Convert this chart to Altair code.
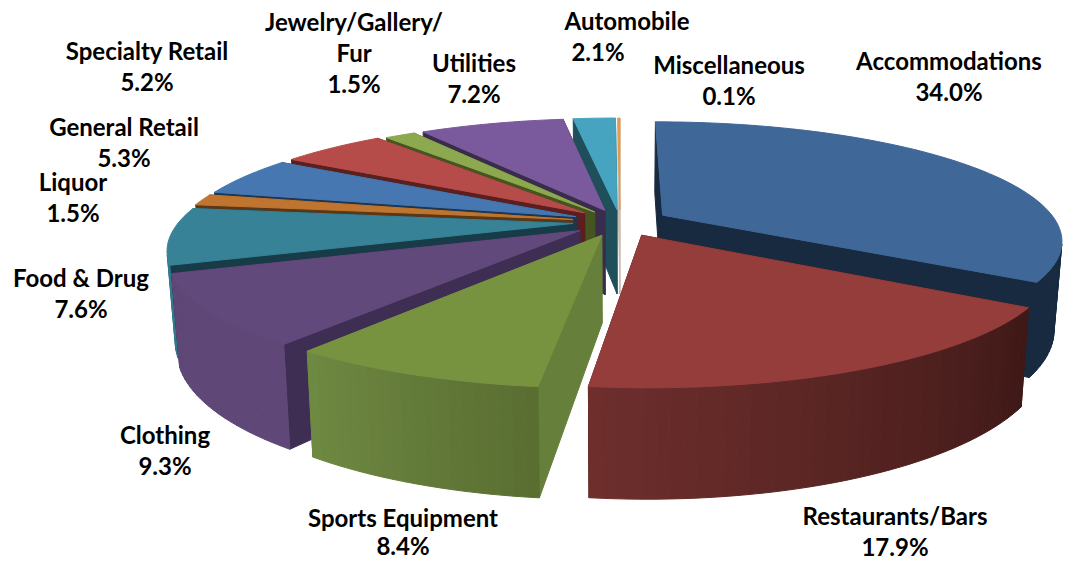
import math
import altair as alt
import pandas as pd

# Share of sales by category, clockwise from twelve o'clock
categories = ["Accommodations", "Restaurants/Bars", "Sports Equipment", "Clothing",
              "Food & Drug", "Liquor", "General Retail", "Specialty Retail",
              "Jewelry/Gallery/\nFur", "Utilities", "Automobile", "Miscellaneous"]
shares = [34.0, 17.9, 8.4, 9.3, 7.6, 1.5, 5.3, 5.2, 1.5, 7.2, 2.1, 0.1]

top_colors = ["#3f6797", "#953d3b", "#77933f", "#62497c", "#378297", "#bf7530",
              "#4677b1", "#b64c49", "#8ca94f", "#7a5a9c", "#46a4c0", "#e29a4c"]
cut_colors = ["#172a40", "#3f1917", "#667f3a", "#3e2e54", "#173c47", "#5c3716",
              "#1c3652", "#5a1f1e", "#45551f", "#3a2c4c", "#1f4f5a", "#c8bdb0"]
rim_left = ["#172a40", "#6e2f2d", "#6f8a42", "#5f4878", "#31798c", "#5c3716",
            "#1c3652", "#5a1f1e", "#45551f", "#3a2c4c", "#1f4f5a", "#c8bdb0"]
rim_right = ["#172a40", "#3f1917", "#5a6e32", "#5f4878", "#31798c", "#5c3716",
             "#1c3652", "#5a1f1e", "#45551f", "#3a2c4c", "#1f4f5a", "#c8bdb0"]

# Radial pull of each slice away from the pie's centre
explode = [0.125, 0.125, 0.122, 0.125, 0.12, 0.122, 0.122, 0.122, 0.11, 0.11, 0.11, 0.11]

# Label anchors: centre of each name line, then of the percentage line
label_x = [949, 895, 403, 165, 81, 73, 124, 147, 354, 474, 627, 729]
label_y = [63, 518, 520, 437, 280, 184, 129, 53, 24, 65, 23, 67]
pct_x = [949, 895, 403, 165, 81, 73, 124, 147, 354, 474, 598, 729]
pct_y = [94, 549, 548, 468, 311, 215, 160, 84, 86, 96, 54, 98]
LINE = 31

# Perspective pie geometry
CX, CY, AX, BY, TILT = 620, 222, 394, 115, 0.205
DEPTH, SHRINK = 86, 0.018
DRAW_ORDER = [11, 10, 9, 8, 7, 6, 5, 4, 0, 3, 2, 1]


def project(u, v, down=0.0):
    w = 1 + TILT * v
    s = 1 - SHRINK * down
    return [CX + AX * u / w * s, CY + (-BY * v + DEPTH * down) / w]


def hex_mix(a, b, t):
    ca = [int(a[i:i + 2], 16) for i in (1, 3, 5)]
    cb = [int(b[i:i + 2], 16) for i in (1, 3, 5)]
    return "#%02x%02x%02x" % tuple(round(x + (y - x) * t) for x, y in zip(ca, cb))


def face(points, color):
    ring = points + [points[0]]
    return {"type": "Feature", "properties": {"fill": color},
            "geometry": {"type": "Polygon", "coordinates": [ring]}}


def signed_area(points):
    total_area = 0.0
    for a, b in zip(points, points[1:] + points[:1]):
        total_area += a[0] * b[1] - b[0] * a[1]
    return total_area


def slice_faces(i, start, end):
    mid = (start + end) / 2
    au, av = explode[i] * math.sin(mid), explode[i] * math.cos(mid)
    steps = max(2, int(math.degrees(end - start) / 1.5))
    rim = [(au + math.sin(start + (end - start) * k / steps),
            av + math.cos(start + (end - start) * k / steps)) for k in range(steps + 1)]
    out = []
    for edge in (rim[0], rim[-1]):
        out.append(face([project(au, av), project(*edge), project(*edge, 1), project(au, av, 1)],
                        cut_colors[i]))
    for k in range(steps):
        strip = [project(*rim[k]), project(*rim[k + 1]),
                 project(*rim[k + 1], 1), project(*rim[k], 1)]
        # The outer wall is only drawn where it faces the viewer
        if signed_area(strip) < 0:
            out.append(face(strip, hex_mix(rim_right[i], rim_left[i], k / steps)))
    out.append(face([project(au, av)] + [project(*p) for p in rim], top_colors[i]))
    return out


total = sum(shares)
edges = [0.0]
for s in shares:
    edges.append(edges[-1] + s / total * 2 * math.pi)

features = []
for i in DRAW_ORDER:
    features.extend(slice_faces(i, edges[i], edges[i + 1]))

pie = (
    alt.Chart(alt.Data(values=features))
    .mark_geoshape(strokeWidth=1)
    .encode(
        color=alt.Color("properties.fill:N", scale=None, legend=None),
        stroke=alt.Stroke("properties.fill:N", scale=None, legend=None),
    )
    .project(type="identity", scale=1, translate=[0, 0])
)

rows = []
for i, name in enumerate(categories):
    for n, line in enumerate(name.split("\n")):
        rows.append({"text": line, "x": label_x[i], "y": label_y[i] + n * LINE})
    rows.append({"text": f"{shares[i]:.1f}%", "x": pct_x[i], "y": pct_y[i]})

labels = (
    alt.Chart(pd.DataFrame(rows))
    .mark_text(font="Lato", fontWeight="bold", fontSize=24, color="#000000", baseline="middle")
    .encode(x=alt.X("x:Q", scale=None, axis=None),
            y=alt.Y("y:Q", scale=None, axis=None),
            text="text:N")
)

chart = (
    alt.layer(pie, labels)
    .properties(width=1072, height=561, padding=0, autosize="none")
    .configure_view(stroke=None)
)
chart.save("out.html", embed_options={"renderer": "svg", "actions": False})
